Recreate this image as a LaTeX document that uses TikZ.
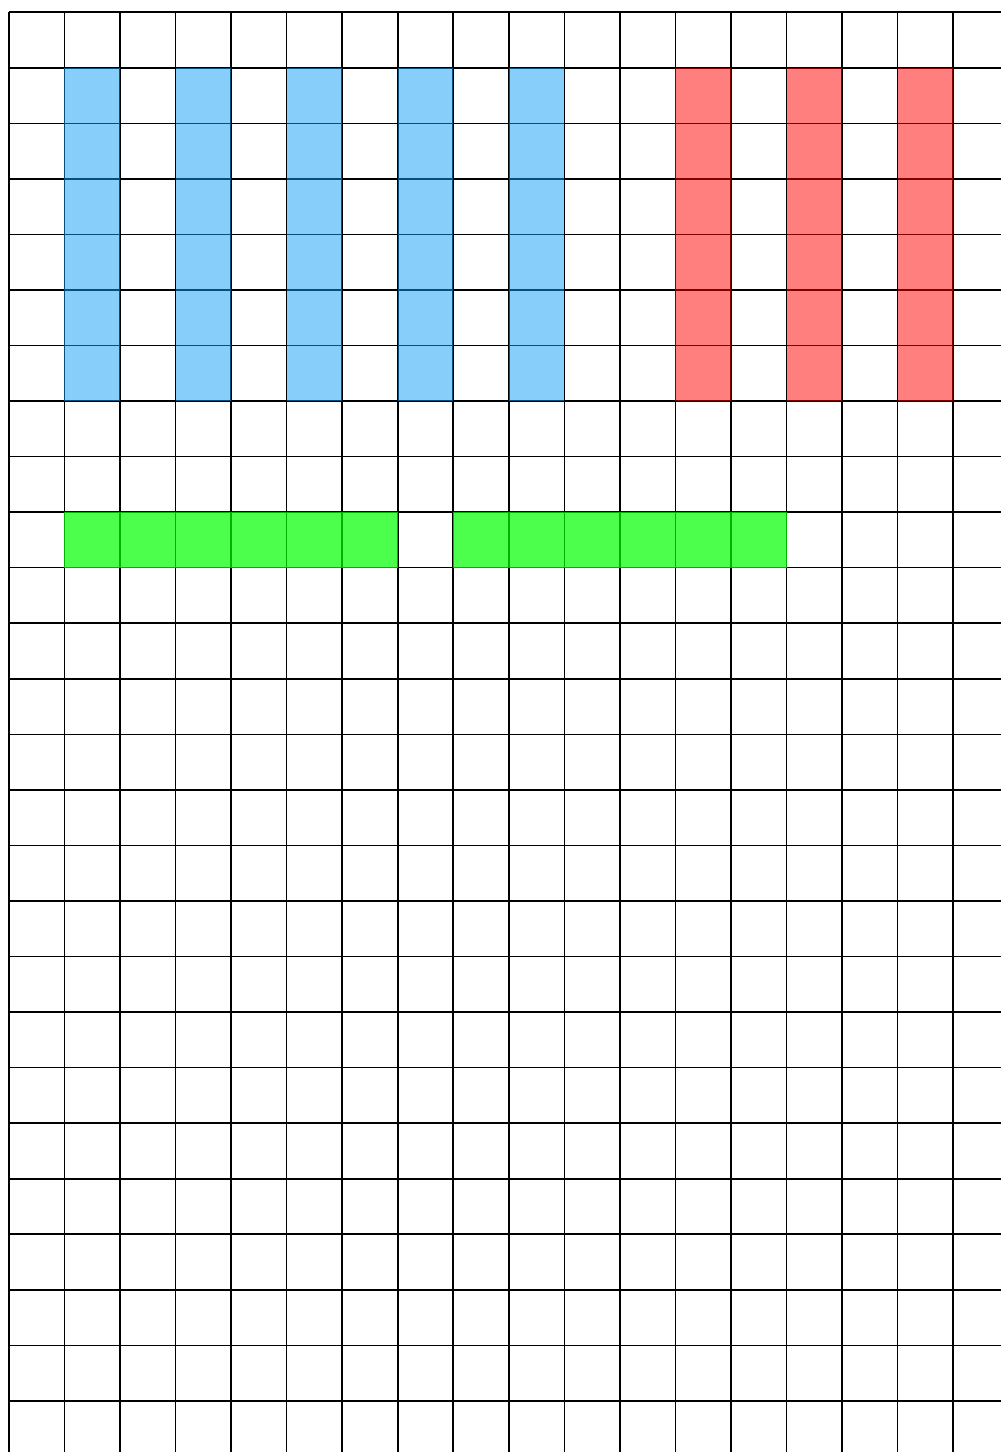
\documentclass[tikz,border=0pt]{standalone}
\usetikzlibrary{calc}

\definecolor{barblue}{RGB}{15,157,245}
\definecolor{barred}{RGB}{255,0,0}
\definecolor{bargreen}{RGB}{0,255,0}

\begin{document}
\begin{tikzpicture}[
    % Estilos
    grid line/.style={line width=0.8pt, black},
    cell blue/.style={fill=barblue, fill opacity=0.5},
    cell red/.style={fill=barred, fill opacity=0.5},
    cell green/.style={fill=bargreen, fill opacity=0.7}
]

    % =========================================================================
    % 1. Marco de la imagen (margenes incluidos)
    % =========================================================================
    \useasboundingbox (-0.16, 0.22) rectangle (17.86, -25.92);
    \clip (-0.16, 0.22) rectangle (17.86, -25.92);

    % =========================================================================
    % 2. Cuadricula
    % =========================================================================
    \draw[grid line] (0, 0) grid (19, -27);

    % =========================================================================
    % 3. Columnas azules y rojas
    % =========================================================================
    \foreach \x in {1,3,5,7,9} {
        \fill[cell blue] (\x, -1) rectangle ++(1, -6);
    }
    \foreach \x in {12,14,16} {
        \fill[cell red] (\x, -1) rectangle ++(1, -6);
    }

    % =========================================================================
    % 4. Filas verdes
    % =========================================================================
    \fill[cell green] (1, -9) rectangle (7, -10);
    \fill[cell green] (8, -9) rectangle (14, -10);

\end{tikzpicture}
\end{document}
